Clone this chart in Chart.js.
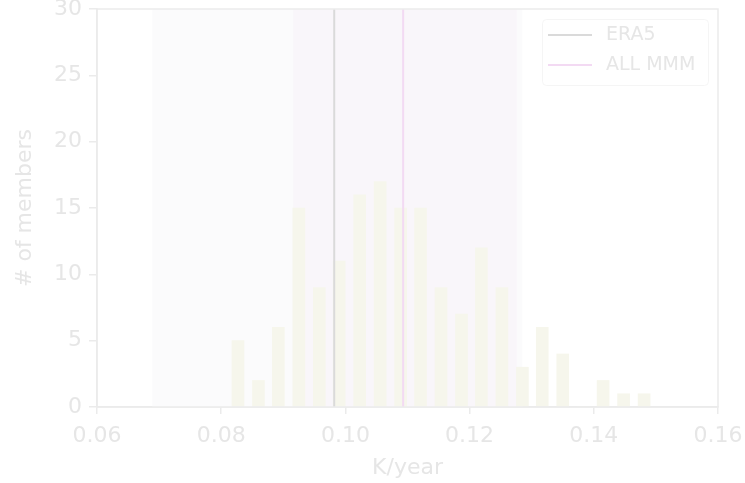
<!DOCTYPE html>
<html>
<head>
<meta charset="utf-8">
<script src="https://cdn.jsdelivr.net/npm/chart.js@4/dist/chart.umd.min.js"></script>
<style>
  html, body { margin: 0; padding: 0; background: #ffffff; }
  #wrap { width: 745px; height: 483px; position: relative; }
</style>
</head>
<body>
<div id="wrap"><canvas id="c" width="745" height="483"></canvas></div>
<script>
// Histogram of member trends (bin centres, K/year) and member counts
const binCenters = [0.0827, 0.0860, 0.0892, 0.0925, 0.0958, 0.0990, 0.1023, 0.1056,
                    0.1089, 0.1121, 0.1154, 0.1187, 0.1219, 0.1252, 0.1285, 0.1317,
                    0.1350, 0.1383, 0.1415, 0.1448, 0.1481];
const memberCounts = [5, 2, 6, 15, 9, 11, 16, 17, 15, 15, 9, 7, 12, 9, 3, 6, 4, 0, 2, 1, 1];

// Reference values (vertical lines)
const era5Trend = 0.0982;
const allMmmTrend = 0.1093;

// Shaded ranges [low, high]
const era5Range = [0.0689, 0.1285];
const allMmmRange = [0.0916, 0.1276];

// Axis ticks
const xTicks = [0.06, 0.08, 0.10, 0.12, 0.14, 0.16];
const yTicks = [0, 5, 10, 15, 20, 25, 30];

const FONT = "'DejaVu Sans', sans-serif";
const TEXT = '#e6e6e6';
const SPINE = '#ebebeb';

const bands = [
  { range: era5Range, color: '#fbfbfc' },
  { range: allMmmRange, color: 'rgba(246, 232, 246, 0.2)' }
];

const bandPlugin = {
  id: 'bands',
  beforeDatasetsDraw(chart) {
    const { ctx, chartArea, scales } = chart;
    ctx.save();
    bands.forEach(b => {
      const x0 = scales.x.getPixelForValue(b.range[0]);
      const x1 = scales.x.getPixelForValue(b.range[1]);
      ctx.fillStyle = b.color;
      ctx.fillRect(x0, chartArea.top, x1 - x0, chartArea.bottom - chartArea.top);
    });
    ctx.restore();
  }
};

const framePlugin = {
  id: 'frame',
  afterDatasetsDraw(chart) {
    const { ctx, chartArea } = chart;
    ctx.save();
    ctx.strokeStyle = SPINE;
    ctx.lineWidth = 1.5;
    ctx.strokeRect(chartArea.left, chartArea.top,
                   chartArea.right - chartArea.left, chartArea.bottom - chartArea.top);
    ctx.restore();
  }
};

const legendPlugin = {
  id: 'boxLegend',
  afterDraw(chart) {
    const { ctx, chartArea } = chart;
    const items = chart.data.datasets.filter(d => d.type === 'line');
    const boxW = 166, boxH = 66;
    const bx = chartArea.right - 10 - boxW;
    const by = chartArea.top + 10;
    ctx.save();
    ctx.fillStyle = 'rgba(255,255,255,0.8)';
    ctx.strokeStyle = '#f5f5f5';
    ctx.lineWidth = 1;
    ctx.beginPath();
    ctx.roundRect(bx + 0.5, by + 0.5, boxW, boxH, 4);
    ctx.fill();
    ctx.stroke();
    ctx.font = '19px ' + FONT;
    ctx.textBaseline = 'middle';
    items.forEach((d, i) => {
      const y = by + 16 + i * 30;
      ctx.strokeStyle = d.borderColor;
      ctx.lineWidth = 2;
      ctx.beginPath();
      ctx.moveTo(bx + 6, y);
      ctx.lineTo(bx + 50, y);
      ctx.stroke();
      ctx.fillStyle = TEXT;
      ctx.fillText(d.label, bx + 64, y);
    });
    ctx.restore();
  }
};

new Chart(document.getElementById('c'), {
  data: {
    datasets: [
      {
        type: 'line',
        label: 'ERA5',
        data: [{ x: era5Trend, y: yTicks[0] }, { x: era5Trend, y: yTicks[yTicks.length - 1] }],
        borderColor: '#dadada',
        borderWidth: 2,
        pointRadius: 0,
        order: 0
      },
      {
        type: 'line',
        label: 'ALL MMM',
        data: [{ x: allMmmTrend, y: yTicks[0] }, { x: allMmmTrend, y: yTicks[yTicks.length - 1] }],
        borderColor: '#f3daf3',
        borderWidth: 2,
        pointRadius: 0,
        order: 0
      },
      {
        type: 'bar',
        label: 'members',
        data: binCenters.map((c, i) => ({ x: c, y: memberCounts[i] })),
        backgroundColor: '#f6f6ec',
        borderWidth: 0,
        barThickness: 12,
        order: 1
      }
    ]
  },
  options: {
    responsive: false,
    animation: false,
    layout: { padding: { left: 0, right: 27, top: 9, bottom: 0 } },
    plugins: {
      legend: { display: false },
      tooltip: { enabled: false }
    },
    scales: {
      x: {
        type: 'linear',
        offset: false,
        min: xTicks[0],
        max: xTicks[xTicks.length - 1],
        afterBuildTicks(scale) { scale.ticks = xTicks.map(v => ({ value: v })); },
        afterFit(scale) {
          scale.height = 76;
          scale.paddingLeft = 0;
          scale.paddingRight = 0;
        },
        ticks: {
          color: TEXT,
          font: { family: FONT, size: 22 },
          padding: 9,
          maxRotation: 0,
          callback: v => v.toFixed(2)
        },
        grid: { offset: false, drawOnChartArea: false, drawTicks: true, tickLength: 7, tickColor: SPINE, lineWidth: 1.5 },
        border: { display: true, color: SPINE, width: 1.5 },
        title: {
          display: true,
          text: 'K/year',
          color: TEXT,
          font: { family: FONT, size: 22 },
          padding: { top: 0, bottom: 2 }
        }
      },
      y: {
        type: 'linear',
        min: yTicks[0],
        max: yTicks[yTicks.length - 1],
        afterBuildTicks(scale) { scale.ticks = yTicks.map(v => ({ value: v })); },
        afterFit(scale) {
          scale.width = 97;
          scale.paddingTop = 0;
          scale.paddingBottom = 0;
        },
        ticks: {
          color: TEXT,
          font: { family: FONT, size: 22 },
          padding: 7
        },
        grid: { drawOnChartArea: false, drawTicks: true, tickLength: 8, tickColor: SPINE, lineWidth: 1.5 },
        border: { display: true, color: SPINE, width: 1.5 },
        title: {
          display: true,
          text: '# of members',
          color: TEXT,
          font: { family: FONT, size: 22 },
          padding: { top: 12, bottom: 0 }
        }
      }
    }
  },
  plugins: [bandPlugin, framePlugin, legendPlugin]
});
</script>
</body>
</html>
